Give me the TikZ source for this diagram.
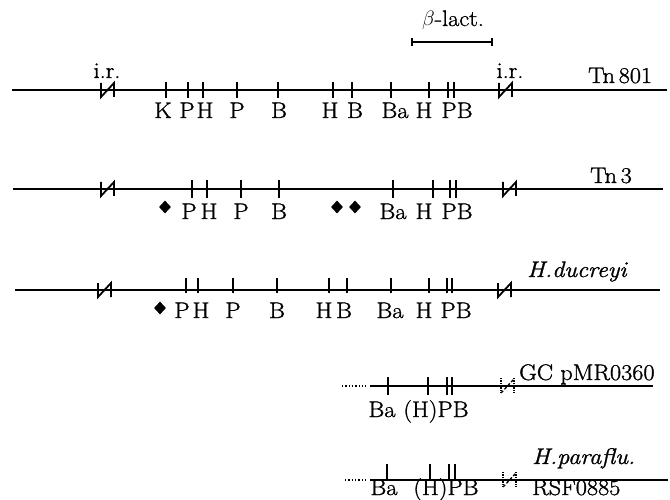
\documentclass[tikz,border=0pt]{standalone}
\usepackage{fontspec}
\usetikzlibrary{shapes.geometric}
% slightly heavier and wider Latin Modern for the map labels
\newfontfamily\maplabel{Latin Modern Roman}[FakeBold=1.2,FakeStretch=1.08]
\begin{document}
\begin{tikzpicture}[x=1pt,y=-1pt,
  dna/.style={line width=1.4pt},
  cut/.style={line width=1.3pt},
  lbl/.style={anchor=base,inner sep=0pt,font=\maplabel\fontsize{22.5}{25}\selectfont},
  lblw/.style={lbl,anchor=base west},
  site/.style={diamond,fill=black,inner sep=0pt,minimum width=12pt,minimum height=13pt},
  irbreak/.pic={\draw[line width=1.8pt] (0,-7)--(0,7)--(13,-7)--(13,7);},
  irdash/.pic={\draw[line width=1.3pt,densely dotted] (0,-8)--(0,8);
               \draw[line width=1.3pt,densely dashed] (0,7)--(13,-7);
               \draw[line width=1.3pt,densely dotted] (13,-8)--(13,8);}]
\useasboundingbox (0,0) rectangle (670,500);

% beta-lactamase gene bracket
\node[lbl] (bl) at (453,26) {$\beta$-lact.};
\draw[line width=1.3pt] (412,38)--(412,46) (412,42)--(492,42) (492,38)--(492,46);

% ---- Tn 801
\draw[dna] (12,90) -- (667,90);
\foreach \x in {166,188,203,237,278,333,352,391,429,448,454}
  \draw[cut] (\x,82) -- (\x,98);
\pic at (101,90) {irbreak};
\pic at (499,90) {irbreak};
\node[lbl] (ir1) at (107,78) {i.r.};
\node[lbl] (ir2) at (510,78) {i.r.};
\node[lblw] (tn801) at (588,83) {Tn\,801};
\node[lbl] (a1) at (163,118) {K};
\node[lbl] (a2) at (187,118) {P};
\node[lbl] (a3) at (205,118) {H};
\node[lbl] (a4) at (237,118) {P};
\node[lbl] (a5) at (279,118) {B};
\node[lbl] (a6) at (330,118) {H};
\node[lbl] (a7) at (355,118) {B};
\node[lbl] (a8) at (395,118) {Ba};
\node[lbl] (a9) at (424,118) {H};
\node[lbl] (a10) at (457,118) {PB};

% ---- Tn 3
\draw[dna] (13,189) -- (663,189);
\foreach \x in {192,207,241,279,393,433,450,456}
  \draw[cut] (\x,180) -- (\x,198);
\pic at (101,189) {irbreak};
\pic at (503,189) {irbreak};
\node[lblw] (tn3) at (590,183) {Tn\,3};
\node[site] (d1) at (165,207) {};
\node[site] (d2) at (337,207) {};
\node[site] (d3) at (355,207) {};
\node[lbl] (b1) at (189,219) {P};
\node[lbl] (b2) at (209,219) {H};
\node[lbl] (b3) at (241,219) {P};
\node[lbl] (b4) at (279,219) {B};
\node[lbl] (b5) at (393,219) {Ba};
\node[lbl] (b6) at (424,219) {H};
\node[lbl] (b7) at (457,219) {PB};

% ---- H. ducreyi
\draw[dna] (15,290) -- (660,290);
\foreach \x in {186,198,233,277,329,347,391,429,447,452}
  \draw[cut] (\x,278) -- (\x,293);
\pic at (98,290) {irbreak};
\pic at (498,290) {irbreak};
\node[lblw] (hd) at (527,277) {\itshape H.ducreyi};
\node[site] (d4) at (160,308) {};
\node[lbl] (c1) at (182,318) {P};
\node[lbl] (c2) at (201,318) {H};
\node[lbl] (c3) at (233,318) {P};
\node[lbl] (c4) at (277,318) {B};
\node[lbl] (c5) at (324,318) {H};
\node[lbl] (c6) at (344,318) {B};
\node[lbl] (c7) at (390,318) {Ba};
\node[lbl] (c8) at (424,318) {H};
\node[lbl] (c9) at (456,318) {PB};

% ---- GC pMR0360
\draw[line width=1.3pt,dotted] (342,386) -- (366,386);
\draw[dna] (370,386) -- (653,386);
\foreach \x in {388,428,447,452}
  \draw[cut] (\x,377) -- (\x,395);
\pic at (501,386) {irdash};
\node[lblw] (gc) at (519,380) {GC pMR0360};
\node[lbl] (e1) at (382,417) {Ba};
\node[lbl] (e2) at (436,417) {(H)PB};

% ---- H. parainfluenzae RSF0885
\draw[line width=1.3pt,dotted] (345,480) -- (368,480);
\draw[dna] (370,480) -- (668,480);
\foreach \x in {387,430,449,455}
  \draw[cut] (\x,464) -- (\x,480);
\pic at (503,480) {irdash};
\node[lblw] (hp) at (532,464) {\itshape H.paraflu.};
\node[lblw] (rsf) at (532,495) {RSF0885};
\node[lbl] (f1) at (384,495) {Ba};
\node[lbl] (f2) at (446,495) {(H)PB};
\end{tikzpicture}
\end{document}
